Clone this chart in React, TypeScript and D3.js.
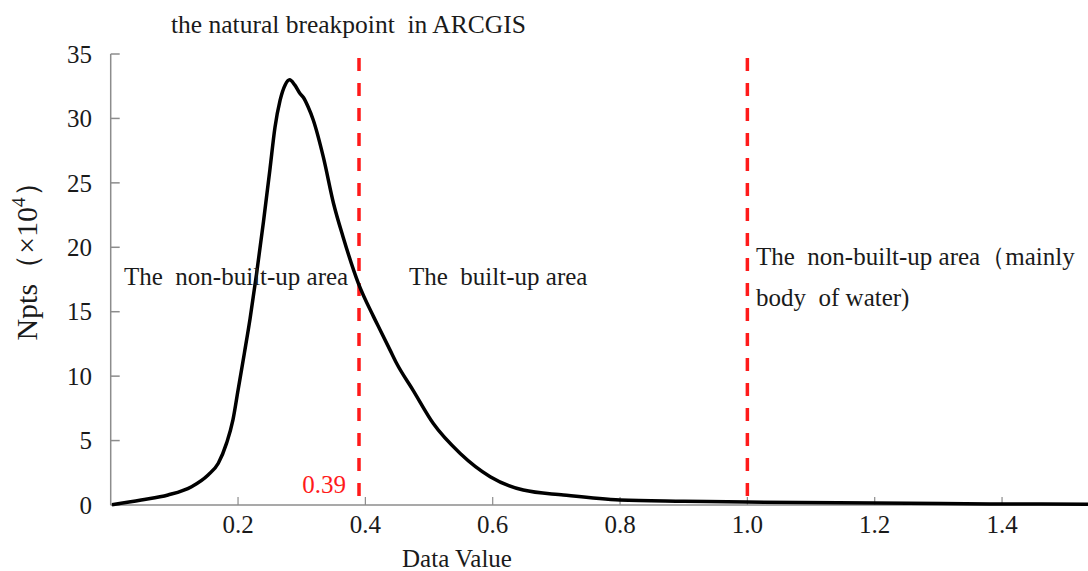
import React from "react";
import * as d3 from "d3";

const dataValue = [0.002, 0.048, 0.09, 0.127, 0.153, 0.169, 0.182, 0.192, 0.2, 0.21, 0.219, 0.229, 0.24, 0.25, 0.258, 0.266, 0.274, 0.281, 0.289, 0.297, 0.303, 0.31, 0.318, 0.334, 0.35, 0.365, 0.389, 0.413, 0.423, 0.439, 0.449, 0.475, 0.507, 0.549, 0.596, 0.648, 0.711, 0.8, 0.9, 1.0, 1.2, 1.4, 1.535];
const npts = [0.02, 0.39, 0.78, 1.42, 2.33, 3.24, 4.8, 6.6, 8.9, 11.8, 14.5, 17.9, 22.0, 26, 29.3, 31.4, 32.6, 33.0, 32.6, 31.95, 31.6, 30.9, 29.9, 27.0, 23.4, 20.8, 17.2, 14.6, 13.6, 12.0, 11.0, 8.9, 6.3, 4.0, 2.2, 1.16, 0.78, 0.39, 0.3, 0.23, 0.15, 0.08, 0.06];
const xTicks = [0.2, 0.4, 0.6, 0.8, 1.0, 1.2, 1.4];
const yTicks = [0, 5, 10, 15, 20, 25, 30, 35];
const breakpoints = [0.39, 1.0];
const breakLabel = "0.39";
const title = "the natural breakpoint  in ARCGIS";
const xLabel = "Data Value";
const areaLabels = ["The  non-built-up area", "The  built-up area"];
const waterLabel = ["The  non-built-up area（mainly", "body  of water)"];

export default function App() {
  const W = 1088, H = 571;
  const x = d3.scaleLinear().domain([0, 1.535]).range([110.7, 1088]);
  const y = d3.scaleLinear().domain([0, 35]).range([505, 54]);
  const pts: [number, number][] = dataValue.map((v, i) => [v, npts[i]]);
  const line = d3.line<[number, number]>().x(d => x(d[0])).y(d => y(d[1])).curve(d3.curveMonotoneX);
  const font = "'Liberation Serif', 'Times New Roman', serif";
  const axisColor = "#8c8c8c";
  const textColor = "#1a1a1a";
  return (
    <svg width={W} height={H} style={{ position: "absolute", left: 0, top: 0, background: "#fff" }} fontFamily={font}>
      <text x={171} y={33} fontSize={25.5} fill={textColor} style={{ whiteSpace: "pre" }}>{title}</text>
      {/* y axis */}
      <line x1={x(0)} x2={x(0)} y1={y(35)} y2={y(0)} stroke={axisColor} strokeWidth={1.5} />
      {yTicks.map(t => (
        <g key={t}>
          <line x1={x(0)} x2={x(0) + 9} y1={y(t)} y2={y(t)} stroke={axisColor} strokeWidth={1.5} />
          <text x={92} y={y(t)} dy="0.35em" textAnchor="end" fontSize={25} fill={textColor}>{t}</text>
        </g>
      ))}
      {/* x axis */}
      <line x1={x(0)} x2={W} y1={y(0)} y2={y(0)} stroke={axisColor} strokeWidth={1.5} />
      {xTicks.map(t => (
        <g key={t}>
          <line x1={x(t)} x2={x(t)} y1={y(0)} y2={y(0) - 8} stroke={axisColor} strokeWidth={1.2} />
          <text x={x(t)} y={533} textAnchor="middle" fontSize={25} fill={textColor}>{t.toFixed(1)}</text>
        </g>
      ))}
      <text x={457} y={567} textAnchor="middle" fontSize={25} fill={textColor}>{xLabel}</text>
      <text transform={`translate(37,${254}) rotate(-90)`} textAnchor="middle" fontSize={30} fill={textColor}>
        Npts（×10<tspan dy={-12} fontSize={19}>4</tspan><tspan dy={12}>）</tspan>
      </text>
      {/* breakpoints */}
      {breakpoints.map(b => (
        <line key={b} x1={x(b)} x2={x(b)} y1={58} y2={y(0)} stroke="#ff1a1a" strokeWidth={3.5} strokeDasharray="13 12" />
      ))}
      <text x={346} y={493} textAnchor="end" fontSize={25} fill="#ff1a1a">{breakLabel}</text>
      {/* curve */}
      <path d={line(pts) || ""} fill="none" stroke="#000" strokeWidth={3.5} strokeLinejoin="round" />
      <text x={124} y={285} fontSize={25} fill={textColor} style={{ whiteSpace: "pre" }}>{areaLabels[0]}</text>
      <text x={409} y={285} fontSize={25} fill={textColor} style={{ whiteSpace: "pre" }}>{areaLabels[1]}</text>
      <text x={756} y={265} fontSize={25} fill={textColor} style={{ whiteSpace: "pre" }}>{waterLabel[0]}</text>
      <text x={756} y={306} fontSize={25} fill={textColor} style={{ whiteSpace: "pre" }}>{waterLabel[1]}</text>
    </svg>
  );
}
